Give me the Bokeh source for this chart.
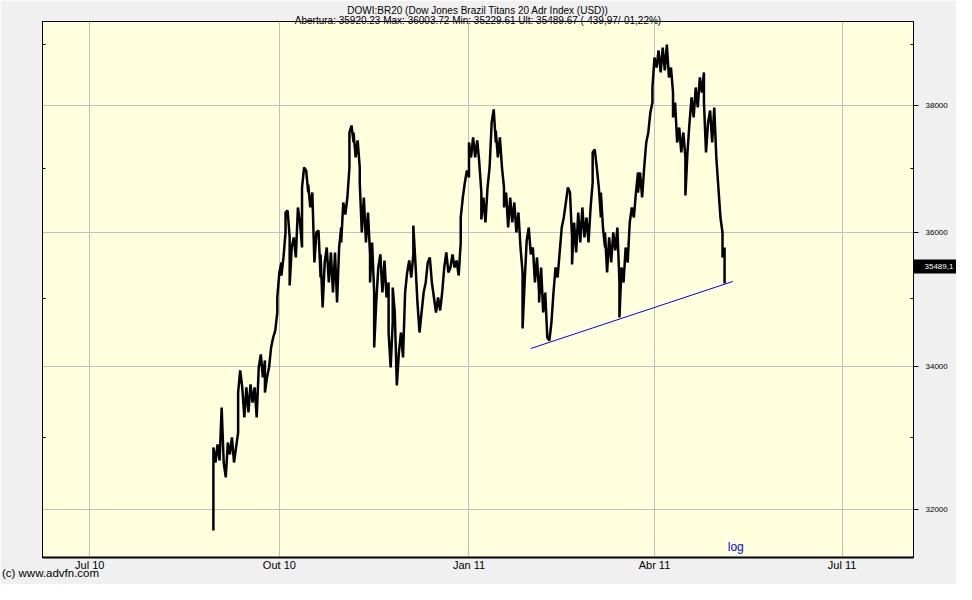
import pandas as pd
from datetime import datetime
from bokeh.plotting import figure
from bokeh.models import Range1d, FixedTicker, LogAxis, LinearAxis, PrintfTickFormatter
from bokeh.embed import file_html
from bokeh.resources import INLINE

# ---- data ----
dates = [
    "2010-08-30", "2010-08-30", "2010-08-31", "2010-09-01", "2010-09-02", "2010-09-03", "2010-09-04", "2010-09-05",
    "2010-09-06", "2010-09-07", "2010-09-08", "2010-09-09", "2010-09-11", "2010-09-11", "2010-09-12", "2010-09-13",
    "2010-09-14", "2010-09-15", "2010-09-16", "2010-09-17", "2010-09-18", "2010-09-19", "2010-09-20", "2010-09-21",
    "2010-09-22", "2010-09-23", "2010-09-24", "2010-09-24", "2010-09-25", "2010-09-26", "2010-09-27", "2010-09-28",
    "2010-09-29", "2010-09-30", "2010-09-30", "2010-10-01", "2010-10-02", "2010-10-02", "2010-10-03", "2010-10-04",
    "2010-10-04", "2010-10-05", "2010-10-06", "2010-10-06", "2010-10-07", "2010-10-08", "2010-10-09", "2010-10-10",
    "2010-10-11", "2010-10-12", "2010-10-12", "2010-10-13", "2010-10-14", "2010-10-15", "2010-10-15", "2010-10-16",
    "2010-10-17", "2010-10-18", "2010-10-19", "2010-10-20", "2010-10-21", "2010-10-21", "2010-10-22", "2010-10-23",
    "2010-10-24", "2010-10-25", "2010-10-26", "2010-10-27", "2010-10-28", "2010-10-29", "2010-10-30", "2010-10-31",
    "2010-10-31", "2010-11-01", "2010-11-02", "2010-11-03", "2010-11-04", "2010-11-04", "2010-11-05", "2010-11-06",
    "2010-11-06", "2010-11-07", "2010-11-08", "2010-11-09", "2010-11-09", "2010-11-10", "2010-11-11", "2010-11-12",
    "2010-11-13", "2010-11-14", "2010-11-14", "2010-11-15", "2010-11-16", "2010-11-16", "2010-11-17", "2010-11-18",
    "2010-11-19", "2010-11-20", "2010-11-21", "2010-11-22", "2010-11-23", "2010-11-23", "2010-11-24", "2010-11-25",
    "2010-11-25", "2010-11-26", "2010-11-27", "2010-11-28", "2010-11-29", "2010-11-30", "2010-12-01", "2010-12-02",
    "2010-12-03", "2010-12-04", "2010-12-05", "2010-12-05", "2010-12-06", "2010-12-07", "2010-12-08", "2010-12-09",
    "2010-12-10", "2010-12-11", "2010-12-12", "2010-12-13", "2010-12-14", "2010-12-15", "2010-12-16", "2010-12-17",
    "2010-12-18", "2010-12-19", "2010-12-20", "2010-12-21", "2010-12-22", "2010-12-23", "2010-12-24", "2010-12-25",
    "2010-12-26", "2010-12-27", "2010-12-28", "2010-12-28", "2010-12-29", "2010-12-30", "2010-12-31", "2011-01-01",
    "2011-01-01", "2011-01-02", "2011-01-03", "2011-01-04", "2011-01-05", "2011-01-06", "2011-01-07", "2011-01-07",
    "2011-01-08", "2011-01-09", "2011-01-10", "2011-01-11", "2011-01-12", "2011-01-13", "2011-01-14", "2011-01-14",
    "2011-01-15", "2011-01-16", "2011-01-17", "2011-01-18", "2011-01-18", "2011-01-19", "2011-01-20", "2011-01-21",
    "2011-01-22", "2011-01-23", "2011-01-24", "2011-01-25", "2011-01-26", "2011-01-27", "2011-01-27", "2011-01-28",
    "2011-01-29", "2011-01-30", "2011-01-31", "2011-02-01", "2011-02-02", "2011-02-03", "2011-02-04", "2011-02-04",
    "2011-02-05", "2011-02-06", "2011-02-07", "2011-02-08", "2011-02-09", "2011-02-10", "2011-02-11", "2011-02-12",
    "2011-02-13", "2011-02-14", "2011-02-15", "2011-02-16", "2011-02-17", "2011-02-18", "2011-02-19", "2011-02-20",
    "2011-02-20", "2011-02-21", "2011-02-22", "2011-02-23", "2011-02-24", "2011-02-25", "2011-02-26", "2011-02-27",
    "2011-02-28", "2011-03-01", "2011-03-02", "2011-03-02", "2011-03-03", "2011-03-04", "2011-03-05", "2011-03-06",
    "2011-03-06", "2011-03-07", "2011-03-08", "2011-03-08", "2011-03-09", "2011-03-10", "2011-03-11", "2011-03-12",
    "2011-03-13", "2011-03-14", "2011-03-15", "2011-03-15", "2011-03-16", "2011-03-17", "2011-03-18", "2011-03-19",
    "2011-03-20", "2011-03-21", "2011-03-22", "2011-03-23", "2011-03-24", "2011-03-24", "2011-03-25", "2011-03-26",
    "2011-03-27", "2011-03-28", "2011-03-29", "2011-03-30", "2011-03-31", "2011-03-31", "2011-04-01", "2011-04-02",
    "2011-04-03", "2011-04-04", "2011-04-05", "2011-04-06", "2011-04-07", "2011-04-08", "2011-04-09", "2011-04-10",
    "2011-04-10", "2011-04-11", "2011-04-12", "2011-04-13", "2011-04-14", "2011-04-15", "2011-04-16", "2011-04-16",
    "2011-04-17", "2011-04-18", "2011-04-19", "2011-04-20", "2011-04-21", "2011-04-22", "2011-04-23", "2011-04-24",
    "2011-04-25", "2011-04-25", "2011-04-26", "2011-04-27", "2011-04-28", "2011-04-29", "2011-04-30", "2011-05-01",
    "2011-05-02", "2011-05-03", "2011-05-04", "2011-05-04", "2011-05-05", "2011-05-05", "2011-05-05",
]

prices = [
    31716, 32855, 32646, 32897, 32674, 33419, 32646, 32439, 32925, 32758, 32996, 32646, 33066, 33633, 33949, 33705,
    33278, 33705, 33348, 33748, 33490, 33705, 33278, 33993, 34181, 33849, 34094, 33633, 33849, 33993, 34283, 34429,
    34531, 34797, 35020, 35394, 35545, 35349, 35621, 36002, 36309, 36340, 35926, 35199, 35773, 35926, 35621, 36387,
    36155, 35773, 36697, 37011, 36964, 36619, 36744, 36387, 36619, 35545, 36002, 36033, 35319, 35667, 34871, 35545,
    35773, 35244, 35697, 35094, 35697, 34946, 35773, 36078, 35849, 36464, 36278, 36541, 37011, 37566, 37678, 37407,
    37566, 37169, 37439, 37011, 36775, 36002, 36541, 35849, 36309, 35667, 35244, 35849, 35094, 34283, 34946, 35470,
    35667, 35094, 35575, 35020, 35244, 34502, 33993, 34649, 35169, 34797, 33734, 34210, 34502, 34138, 35094, 35394,
    35575, 35319, 35667, 36109, 35545, 34946, 34502, 34797, 35094, 35244, 35545, 35621, 35244, 35020, 34797, 35020,
    34827, 35094, 35470, 35697, 35394, 35470, 35667, 35470, 35575, 35349, 35849, 36232, 36541, 36775, 36964, 36854,
    37407, 37169, 37487, 37169, 37439, 37090, 36619, 36201, 36541, 36155, 36697, 37011, 37726, 37936, 37407, 37598,
    37169, 37487, 37011, 36697, 36387, 36619, 36078, 36541, 36155, 36464, 36002, 36309, 35773, 35394, 34561, 35244,
    35880, 36078, 35667, 35773, 35244, 35621, 35094, 34946, 35470, 34797, 35094, 34429, 34385, 34649, 35094, 35470,
    35319, 35697, 36078, 36232, 36464, 36697, 36619, 35926, 35515, 36155, 35697, 36309, 35849, 36387, 35926, 36232,
    35849, 36387, 36775, 37248, 37296, 37011, 36697, 36232, 36619, 36078, 35773, 36002, 35394, 35926, 35545, 36002,
    35727, 36078, 35244, 34723, 35470, 35244, 35773, 35545, 36155, 36387, 36232, 36619, 36932, 36619, 36932, 36541,
    37011, 37407, 37566, 37887, 38049, 38292, 38783, 38619, 38899, 38537, 38949, 38570, 38999, 38456, 38619, 38211,
    37807, 38049, 37407, 37646, 37248, 37566, 37169, 36573, 37248, 37726, 38130, 37807, 38292, 37968, 38456, 38211,
    38537, 38049, 37248, 37726, 37919, 37407, 37968, 37169, 36697, 36232, 36002, 35621, 35773, 35230, 35490,
]

trend_dates = ["2011-01-31", "2011-05-09"]
trend_prices = [34268, 35259]

x_tick_dates = ["2010-07-01", "2010-10-01", "2011-01-01", "2011-04-01", "2011-07-01"]
x_tick_labels = ["Jul 10", "Out 10", "Jan 11", "Abr 11", "Jul 11"]
y_ticks = [32000, 34000, 36000, 38000]
y_minor_ticks = [33000, 35000, 37000, 39000]

last_price = 35489.67
last_label = "35489,1"
title_line1 = "DOWI:BR20 (Dow Jones Brazil Titans 20 Adr Index (USD))"
title_line2 = "Abertura: 35920.23 Max: 36003.72 Min: 35229.61 Ult: 35489.67 (-439,97/-01,22%)"
scale_note = "log"
watermark = "(c) www.advfn.com"

# ---- figure ----
FONT = "Liberation Sans"
W, H = 956, 584
ML, MR, MT, MB = 42, 42, 21, 27
FW, FH = W - ML - MR, H - MT - MB

x_start, x_end = datetime(2010, 6, 8, 2), datetime(2011, 8, 4, 16)
y_start, y_end = 31353, 39382


def ms(d):
    return float(pd.Timestamp(d).value // 10**6)


x0_ms, x1_ms = ms(x_start), ms(x_end)

p = figure(width=W, height=H, title=None, x_axis_type="datetime", y_axis_type="log",
           x_range=Range1d(x_start, x_end), y_range=Range1d(y_start, y_end),
           y_axis_location="right", output_backend="svg", toolbar_location=None,
           background_fill_color="#FFFFDD", border_fill_color="#F0F0F0",
           outline_line_color="black", outline_line_width=1,
           min_border_left=ML, min_border_right=MR, min_border_top=MT, min_border_bottom=MB)

xt = FixedTicker(ticks=[ms(d) for d in x_tick_dates])
p.xaxis.ticker = xt
p.xgrid.ticker = xt
p.xaxis.major_label_overrides = {ms(d): lab for d, lab in zip(x_tick_dates, x_tick_labels)}
p.xaxis.major_tick_in = 0
p.xaxis.major_tick_out = 0
p.xaxis.minor_tick_in = 0
p.xaxis.minor_tick_out = 0
p.xaxis.axis_line_width = 2
p.xaxis.axis_line_color = "black"
p.xaxis.major_label_standoff = 1
p.xaxis.major_label_text_font = FONT
p.xaxis.major_label_text_font_size = "11px"
p.xaxis.major_label_text_color = "black"

yt = FixedTicker(ticks=y_ticks, minor_ticks=y_minor_ticks)
p.yaxis.ticker = yt
p.ygrid.ticker = yt
p.yaxis.formatter = PrintfTickFormatter(format="%d")
p.yaxis.major_tick_in = 0
p.yaxis.major_tick_out = 5
p.yaxis.minor_tick_in = 3
p.yaxis.minor_tick_out = 0
p.yaxis.axis_line_color = "black"
p.yaxis.major_tick_line_color = "black"
p.yaxis.minor_tick_line_color = "black"
p.yaxis.major_label_standoff = 7
p.yaxis.major_label_text_font = FONT
p.yaxis.major_label_text_font_size = "8px"
p.yaxis.major_label_text_color = "black"

left_axis = LogAxis(ticker=yt, major_tick_in=0, major_tick_out=0, minor_tick_in=3, minor_tick_out=0,
                    major_label_text_alpha=0, major_label_text_font_size="8px",
                    axis_line_color="black", minor_tick_line_color="black")
p.add_layout(left_axis, "left")

p.grid.grid_line_color = "#C0C0C0"
p.grid.grid_line_width = 1

p.line(x=pd.to_datetime(dates), y=prices, line_color="black", line_width=2.5)
p.line(x=pd.to_datetime(trend_dates), y=trend_prices, line_color="#0000FF", line_width=1)


# ---- texts outside the frame: single-tick axes stacked in the side panels ----
def text_axis(cls, tick, text, standoff, size, color="black"):
    return cls(ticker=FixedTicker(ticks=[tick], minor_ticks=[]),
               major_label_overrides={tick: text}, major_label_standoff=standoff,
               major_label_text_font=FONT, major_label_text_font_size=size,
               major_label_text_color=color, axis_line_color=None,
               major_tick_line_color=None, minor_tick_line_color=None,
               major_tick_in=0, major_tick_out=0, minor_tick_in=0, minor_tick_out=0)


mid_ms = (x0_ms + x1_ms) / 2
p.add_layout(text_axis(LinearAxis, mid_ms, title_line2, -4, "10px"), "above")
p.add_layout(text_axis(LinearAxis, mid_ms, title_line1, -4, "10px"), "above")

wm_ms = x0_ms + (8.0 / FW) * (x1_ms - x0_ms)
p.add_layout(text_axis(LinearAxis, wm_ms, watermark, -7, "11.5px"), "below")

# last-price tag: black tick band reaching back to the frame edge, white label on it
tag_axis = text_axis(LogAxis, last_price, last_label, -36, "8px", color="white")
tag_axis.major_tick_line_color = "black"
tag_axis.major_tick_line_width = 14
tag_axis.major_tick_in = 37
tag_axis.major_tick_out = 10
p.add_layout(tag_axis, "right")

# "log" note inside the frame
p.text(x=[x0_ms + (686.0 / FW) * (x1_ms - x0_ms)], y=[y_start], text=[scale_note],
       text_color="#0000FF", text_font_size="12px", text_baseline="bottom",
       text_align="left", x_offset=0, y_offset=-4, text_font={"value": FONT})

open("out.html", "w").write(file_html(p, INLINE))
